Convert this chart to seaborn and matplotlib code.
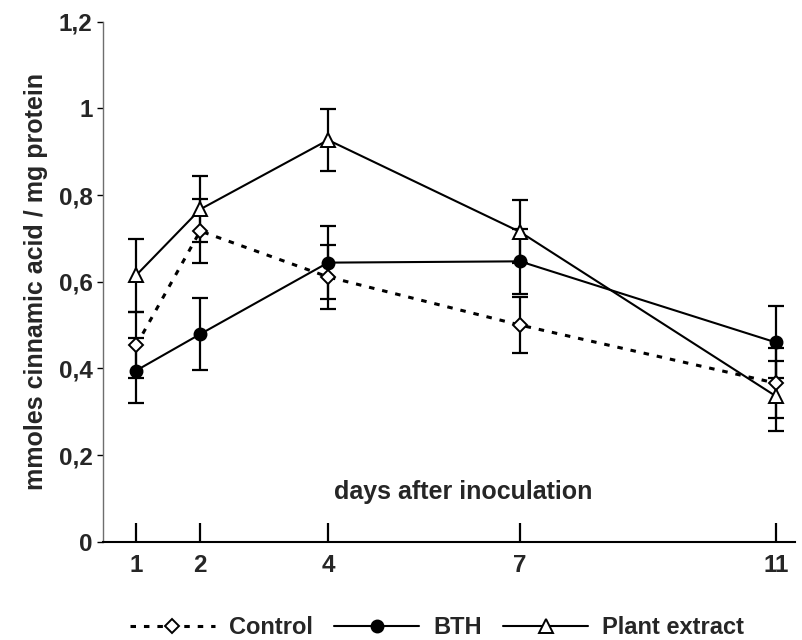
import matplotlib
matplotlib.use("Agg")
import matplotlib.pyplot as plt
import seaborn as sns
import pandas as pd

# Cinnamic acid formation after inoculation, three treatments
days = [1, 2, 4, 7, 11]
day_labels = ["1", "2", "4", "7", "11"]

control = [0.453, 0.717, 0.611, 0.50, 0.366]
control_err = [0.076, 0.073, 0.074, 0.065, 0.081]

bth = [0.395, 0.479, 0.644, 0.647, 0.460]
bth_err = [0.076, 0.083, 0.084, 0.075, 0.083]

plant = [0.615, 0.767, 0.927, 0.715, 0.336]
plant_err = [0.084, 0.076, 0.071, 0.073, 0.081]

y_ticks = [0, 0.2, 0.4, 0.6, 0.8, 1.0, 1.2]
y_tick_labels = ["0", "0,2", "0,4", "0,6", "0,8", "1", "1,2"]

series_names = ["Control", "BTH", "Plant extract"]

sns.set_theme(style="white")
plt.rcParams["font.family"] = ["Liberation Sans", "DejaVu Sans"]
plt.rcParams["font.weight"] = "bold"

fig = plt.figure(figsize=(8.02, 6.40), dpi=100)
ax = fig.add_axes([0.1284, 0.1536, 0.8628, 0.8125])

df = pd.DataFrame({
    "day": days * 3,
    "value": control + bth + plant,
    "err": control_err + bth_err + plant_err,
    "series": [s for s in series_names for _ in days],
})

styles = {
    "Control": dict(marker="D", markersize=6.8, markerfacecolor="white",
                    linestyle=(0, (1.8, 2.6)), linewidth=2.2),
    "BTH": dict(marker="o", markersize=8.6, markerfacecolor="black",
                linestyle="-", linewidth=1.5),
    "Plant extract": dict(marker="^", markersize=9.5, markerfacecolor="white",
                          linestyle="-", linewidth=1.5),
}

for name in series_names:
    sub = df[df["series"] == name]
    ax.errorbar(sub["day"], sub["value"], yerr=sub["err"], fmt="none",
                ecolor="black", elinewidth=1.6, capsize=6, capthick=1.6,
                zorder=2)
    st = styles[name]
    sns.lineplot(data=sub, x="day", y="value", ax=ax, color="black",
                 marker=st["marker"], markersize=st["markersize"],
                 markerfacecolor=st["markerfacecolor"],
                 markeredgecolor="black", markeredgewidth=1.4,
                 linestyle=st["linestyle"], linewidth=st["linewidth"],
                 label=name, zorder=3, errorbar=None)

handles, labels = ax.get_legend_handles_labels()
if ax.get_legend() is not None:
    ax.get_legend().remove()

ax.set_xlim(0.48, 11.3)
ax.set_ylim(0, 1.2)
ax.set_xticks(days)
ax.set_xticklabels(day_labels)
ax.set_yticks(y_ticks)
ax.set_yticklabels(y_tick_labels)

for side in ["top", "right"]:
    ax.spines[side].set_visible(False)
ax.spines["left"].set_color("#6e6e6e")
ax.spines["left"].set_linewidth(1.0)
ax.spines["bottom"].set_color("black")
ax.spines["bottom"].set_linewidth(1.5)

ax.tick_params(axis="y", direction="out", length=4.5, width=1, color="black",
               labelsize=17.5, pad=3, left=True)
ax.tick_params(axis="x", direction="in", length=14, width=1.6,
               color="black", labelsize=17.5, pad=9, bottom=True)
for lab in ax.get_xticklabels() + ax.get_yticklabels():
    lab.set_fontweight("bold")

ax.set_ylabel("mmoles cinnamic acid / mg protein", fontsize=18,
              fontweight="bold", labelpad=8)
ax.set_xlabel("days after inoculation", fontsize=18, fontweight="bold",
              va="center")
ax.xaxis.set_label_coords(0.52, 0.095)

fig.legend(handles, labels, loc="center", bbox_to_anchor=(0.545, 0.019),
           ncol=3, frameon=False, handlelength=3.6,
           handletextpad=0.6, columnspacing=0.9,
           prop={"weight": "bold", "size": 17})

fig.savefig("out.png", dpi=100)
